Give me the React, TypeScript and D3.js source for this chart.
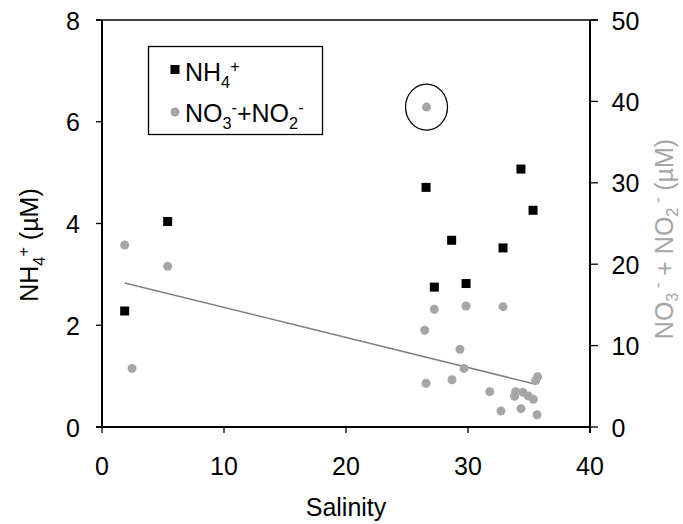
import React from "react";
import * as d3 from "d3";

// Ammonium (left axis, µM) against salinity
const nh4Salinity = [1.86, 5.38, 26.56, 35.33, 28.66, 32.87, 27.24, 29.84, 34.34];
const nh4Values = [2.28, 4.04, 4.71, 4.26, 3.67, 3.52, 2.75, 2.82, 5.07];

// Nitrate + nitrite (right axis, µM) against salinity
const noxSalinity = [
  1.86, 5.38, 2.46, 26.6, 27.24, 29.84, 32.87, 26.45, 29.34, 29.67, 26.56, 28.69,
  31.78, 33.9, 33.82, 34.5, 34.95, 35.36, 35.7, 35.55, 32.7, 34.34, 35.66,
];
const noxValues = [
  22.36, 19.74, 7.2, 39.3, 14.46, 14.86, 14.78, 11.88, 9.54, 7.2, 5.37, 5.81,
  4.34, 4.34, 3.77, 4.26, 3.8, 3.4, 6.18, 5.69, 1.97, 2.25, 1.51,
];

// Index of the nitrate point singled out with a ring
const outlierIndex = 3;

// Linear fit of nitrate + nitrite on salinity
const fitSlope = -0.3695;
const fitIntercept = 18.39;
const fitRange = [1.86, 35.55];

const xTicks = [0, 10, 20, 30, 40];
const leftTicks = [0, 2, 4, 6, 8];
const rightTicks = [0, 10, 20, 30, 40, 50];

const W = 683;
const H = 524;
const margin = { left: 102, right: 93, top: 20, bottom: 97 };
const FONT = "'Liberation Sans', Arial, Helvetica, sans-serif";
const GREY = "#a6a6a6";

export default function App() {
  const x = d3.scaleLinear().domain([0, 40]).range([margin.left, W - margin.right]);
  const yL = d3.scaleLinear().domain([0, 8]).range([H - margin.bottom, margin.top]);
  const yR = d3.scaleLinear().domain([0, 50]).range([H - margin.bottom, margin.top]);

  const x0 = x(0);
  const x1 = x(40);
  const yb = yL(0);
  const yt = yL(8);

  const fitLine = d3
    .line<number>()
    .x((s) => x(s))
    .y((s) => yR(fitIntercept + fitSlope * s));

  const sq = 9;
  const fs = 25;
  const ss = fs * 0.65;

  return (
    <svg
      width={W}
      height={H}
      style={{ position: "absolute", left: 0, top: 0, background: "#fff" }}
      fontFamily={FONT}
    >
      <rect width={W} height={H} fill="#fff" />

      {/* frame: top edge thin, axes heavier */}
      <line x1={x0 - 6} x2={x1 + 8} y1={yt} y2={yt} stroke="#000" strokeWidth={1.3} />
      <line x1={x0} x2={x0} y1={yt} y2={yb} stroke="#000" strokeWidth={2} />
      <line x1={x1} x2={x1} y1={yt} y2={yb + 6} stroke="#000" strokeWidth={2} />
      <line x1={x0 - 6} x2={x1} y1={yb} y2={yb} stroke="#000" strokeWidth={2} />

      {/* bottom axis */}
      {xTicks.map((t) => (
        <g key={"x" + t}>
          <line x1={x(t)} x2={x(t)} y1={yb} y2={yb + 6} stroke="#000" strokeWidth={1.3} />
          <text x={x(t)} y={yb + 48} textAnchor="middle" fontSize={fs} fill="#000">
            {t}
          </text>
        </g>
      ))}
      <text x={(x0 + x1) / 2} y={yb + 89} textAnchor="middle" fontSize={fs} fill="#000">
        Salinity
      </text>

      {/* left axis */}
      {leftTicks.map((t) => (
        <g key={"l" + t}>
          <line x1={x0 - 6} x2={x0} y1={yL(t)} y2={yL(t)} stroke="#000" strokeWidth={1.3} />
          <text x={x0 - 22} y={yL(t) + 9.5} textAnchor="end" fontSize={fs} fill="#000">
            {t}
          </text>
        </g>
      ))}
      <text
        transform={`translate(38, 245) rotate(-90)`}
        textAnchor="middle"
        fontSize={fs}
        fill="#000"
      >
        NH
        <tspan fontSize={ss} dy={7}>4</tspan>
        <tspan fontSize={ss} dy={-16}>+</tspan>
        <tspan dy={9}> (µM)</tspan>
      </text>

      {/* right axis */}
      {rightTicks.map((t) => (
        <g key={"r" + t}>
          <line x1={x1} x2={x1 + 8} y1={yR(t)} y2={yR(t)} stroke="#000" strokeWidth={1.3} />
          <text x={x1 + 21.5} y={yR(t) + 9.5} textAnchor="start" fontSize={fs} fill="#000">
            {t}
          </text>
        </g>
      ))}
      <text
        transform={`translate(673, 239) rotate(-90)`}
        textAnchor="middle"
        fontSize={fs}
        fill={GREY}
      >
        NO
        <tspan fontSize={ss} dy={5}>3</tspan>
        <tspan fontSize={ss} dy={-15}> -</tspan>
        <tspan dy={10}> + NO</tspan>
        <tspan fontSize={ss} dy={5}>2</tspan>
        <tspan fontSize={ss} dy={-15}> -</tspan>
        <tspan dy={10}> (µM)</tspan>
      </text>

      {/* fitted line */}
      <path d={fitLine(fitRange) ?? ""} fill="none" stroke="#808080" strokeWidth={1.5} />

      {/* nitrate + nitrite points */}
      {noxValues.map((v, i) => (
        <circle key={"n" + i} cx={x(noxSalinity[i])} cy={yR(v)} r={4.5} fill={GREY} />
      ))}
      <ellipse
        cx={x(noxSalinity[outlierIndex])}
        cy={yR(noxValues[outlierIndex])}
        rx={21}
        ry={23}
        fill="none"
        stroke="#000"
        strokeWidth={1.3}
      />

      {/* ammonium points */}
      {nh4Values.map((v, i) => (
        <rect
          key={"a" + i}
          x={x(nh4Salinity[i]) - sq / 2}
          y={yL(v) - sq / 2}
          width={sq}
          height={sq}
          fill="#000"
        />
      ))}

      {/* legend */}
      <rect x={148.5} y={46.5} width={174} height={88} fill="#fff" stroke="#000" strokeWidth={1.3} />
      <rect x={175 - sq / 2} y={69.5 - sq / 2} width={sq} height={sq} fill="#000" />
      <text x={185} y={81} fontSize={fs} fill="#000">
        NH
        <tspan fontSize={ss} dy={7}>4</tspan>
        <tspan fontSize={ss} dy={-16}>+</tspan>
      </text>
      <circle cx={175} cy={112} r={4.5} fill={GREY} />
      <text x={185} y={122} fontSize={fs} fill="#000">
        NO
        <tspan fontSize={ss} dy={7}>3</tspan>
        <tspan fontSize={ss} dy={-16}>-</tspan>
        <tspan dy={9}>+NO</tspan>
        <tspan fontSize={ss} dy={7}>2</tspan>
        <tspan fontSize={ss} dy={-16}>-</tspan>
      </text>
    </svg>
  );
}
